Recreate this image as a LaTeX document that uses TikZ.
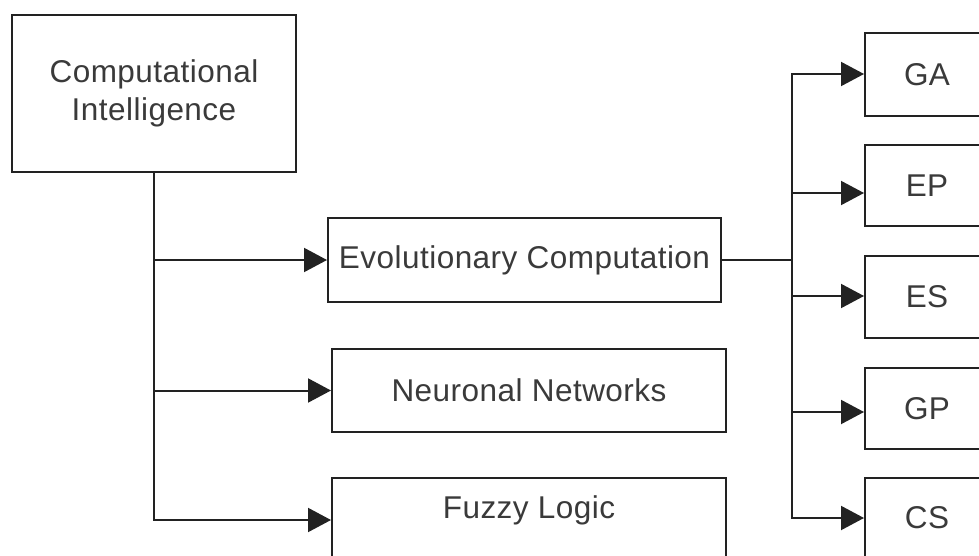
\documentclass[tikz,border=0pt]{standalone}
\usepackage{fontspec}
\setmainfont{Liberation Sans}[LetterSpace=1.5]
\usetikzlibrary{arrows.meta}
\definecolor{linec}{HTML}{222222}
\definecolor{textc}{HTML}{3A3A3A}
\begin{document}
\begin{tikzpicture}[x=1pt,y=-1pt,
  lbl/.style={text=textc, font=\fontsize{31.5}{38}\selectfont, align=center},
  box/.style={lbl, draw=linec, line width=2pt, rectangle, inner sep=0pt},
  link/.style={draw=linec, line width=2pt, line cap=rect},
  arr/.style={link, -{Triangle[length=23pt,width=24pt]}}]
\useasboundingbox (0,0) rectangle (979,556);
\clip (0,0) rectangle (979,556);
\fill[white] (0,0) rectangle (979,556);

% left column
\node[box, minimum width=284pt, minimum height=157pt] (ci) at (154,93.5) {Computational\\Intelligence};
\node[box, minimum width=393pt, minimum height=84pt] (ec) at (524.5,260) {Evolutionary Computation};
\node[box, minimum width=394pt, minimum height=83pt] (nn) at (529,390.5) {Neuronal Networks};
\node[box, minimum width=394pt, minimum height=110pt] (fl) at (529,533) {};
\node[lbl, anchor=base] (fltext) at (529,518) {Fuzzy Logic};

% right column
\node[box, minimum width=124pt, minimum height=83pt] (ga) at (927,74.5) {GA};
\node[box, minimum width=124pt, minimum height=81pt] (ep) at (927,185.5) {EP};
\node[box, minimum width=124pt, minimum height=82pt] (es) at (927,297) {ES};
\node[box, minimum width=124pt, minimum height=81pt] (gp) at (927,408.5) {GP};
\node[box, minimum width=124pt, minimum height=80pt] (cs) at (927,518) {CS};

% left tree
\coordinate (lbot) at (154,520);
\draw[link] (ci.south) -- (lbot);
\draw[arr] (ci.south |- ec.west) -- (ec.west);
\draw[arr] (ci.south |- nn.west) -- (nn.west);
\draw[arr] (lbot) -- (lbot -| fl.west);

% right tree
\coordinate (rmid) at (792,260);
\coordinate (rtop) at (792,74);
\coordinate (r2) at (792,193);
\coordinate (r3) at (792,296);
\coordinate (r4) at (792,412);
\coordinate (rbot) at (792,518);
\draw[link] (ec.east) -- (rmid);
\draw[link] (rtop) -- (rbot);
\draw[arr] (rtop) -- (rtop -| ga.west);
\draw[arr] (r2) -- (r2 -| ep.west);
\draw[arr] (r3) -- (r3 -| es.west);
\draw[arr] (r4) -- (r4 -| gp.west);
\draw[arr] (rbot) -- (rbot -| cs.west);
\end{tikzpicture}
\end{document}
